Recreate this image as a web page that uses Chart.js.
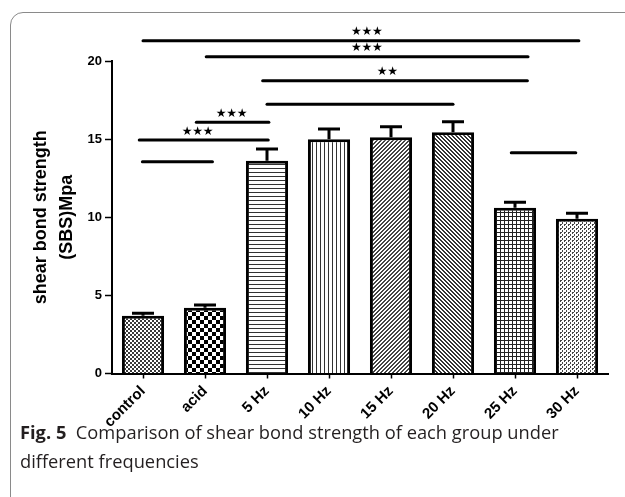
<!DOCTYPE html>
<html>
<head>
<meta charset="utf-8">
<script src="https://cdn.jsdelivr.net/npm/chart.js@4/dist/chart.umd.min.js"></script>
<style>
  body { margin: 0; background: #fff; }
  #wrap { position: relative; width: 625px; height: 497px; overflow: hidden; }
  #frame { position: absolute; left: 10px; top: 12px; width: 700px; height: 600px;
           border: 1.5px solid #8a8a8a; border-radius: 13px; }
  #cv { position: absolute; left: 0; top: 0; }
  #caption { position: absolute; left: 20px; top: 417px; width: 600px; white-space: nowrap;
             font-family: "Open Sans", sans-serif; font-size: 18.3px; line-height: 29px; color: #231f20; }
  #caption b { font-weight: 700; }
</style>
</head>
<body>
<div id="wrap">
  <div id="frame"></div>
  <canvas id="cv" width="625" height="440"></canvas>
  <div id="caption"><b>Fig. 5</b>&nbsp; Comparison of shear bond strength of each group under<br>different frequencies</div>
</div>
<script>
var categories = ['control', 'acid', '5 Hz', '10 Hz', '15 Hz', '20 Hz', '25 Hz', '30 Hz'];
var sbsMean = [3.70, 4.21, 13.62, 15.00, 15.12, 15.44, 10.61, 9.91];
var sbsErr = [0.15, 0.17, 0.75, 0.65, 0.68, 0.68, 0.35, 0.34];
var yTicks = [0, 5, 10, 15, 20];

// significance brackets (x in category index units)
var sigFrom = [0, 1.02, 1.93, 2.0, 0.86, -0.06, -0.01, 5.94];
var sigTo = [7.03, 6.21, 6.2, 5.0, 2.03, 2.02, 1.12, 6.98];
var sigY = [21.3, 20.28, 18.74, 17.23, 16.08, 14.94, 13.56, 14.13];
var sigMark = ['***', '***', '**', '', '***', '***', '', ''];
var markX = [3.61, 3.61, 3.94, null, 1.43, 0.88, null, null];

var patternKinds = ['fineCheck', 'check', 'hlines', 'vlines', 'diagUp', 'diagDown', 'grid', 'dots'];

function makePattern(kind) {
    var c = document.createElement('canvas');
    var n = 8;
    c.width = n; c.height = n;
    var g = c.getContext('2d');
    g.fillStyle = '#fff';
    g.fillRect(0, 0, n, n);
    for (var y = 0; y < n; y++) {
        for (var x = 0; x < n; x++) {
            var on = false, col = '#000';
            if (kind == 'fineCheck') { on = ((x >> 1) + (y >> 1)) % 2 == 0; col = '#3a3a3a'; }
            if (kind == 'check') { on = ((x >> 2) + (y >> 2)) % 2 == 0; col = '#000'; }
            if (kind == 'hlines') { on = y % 4 == 0; col = '#333'; }
            if (kind == 'vlines') { on = x % 4 == 0; col = '#333'; }
            if (kind == 'diagUp') { on = (x + y) % 4 < 2; col = '#444'; }
            if (kind == 'diagDown') { on = ((x - y) % 4 + 4) % 4 < 2; col = '#333'; }
            if (kind == 'grid') { on = x % 4 == 0 || y % 4 == 0; col = '#222'; }
            if (kind == 'dots') { on = (x + y) % 4 < 2 && (x % 2 == 0 || y % 4 == 0); col = '#444'; }
            if (on) { g.fillStyle = col; g.fillRect(x, y, 1, 1); }
        }
    }
    return g.createPattern(c, 'repeat');
}

var datasets = [{
    type: 'bar',
    data: sbsMean,
    backgroundColor: patternKinds.map(makePattern),
    borderColor: '#000',
    borderWidth: 3,
    barPercentage: 0.68,
    categoryPercentage: 1,
    grouped: false,
    xAxisID: 'x',
    order: 2
}];
for (var i = 0; i < sigY.length; i++) {
    datasets.push({
        type: 'line',
        data: [{x: sigFrom[i], y: sigY[i]}, {x: sigTo[i], y: sigY[i]}],
        xAxisID: 'xs',
        borderColor: '#000',
        borderWidth: 3,
        borderCapStyle: 'round',
        pointRadius: 0,
        clip: false,
        order: 1
    });
}

var errorBars = {
    id: 'errorBars',
    afterDatasetsDraw: function (chart) {
        var ctx = chart.ctx, ys = chart.scales.y, xs = chart.scales.xs;
        var meta = chart.getDatasetMeta(0);
        ctx.save();
        ctx.strokeStyle = '#000';
        ctx.lineWidth = 3;
        meta.data.forEach(function (bar, i) {
            var top = ys.getPixelForValue(sbsMean[i]);
            var e = ys.getPixelForValue(sbsMean[i] + sbsErr[i]);
            ctx.beginPath();
            ctx.moveTo(bar.x, top);
            ctx.lineTo(bar.x, e);
            ctx.moveTo(bar.x - 11, e);
            ctx.lineTo(bar.x + 11, e);
            ctx.stroke();
        });
        // stars over the brackets
        ctx.fillStyle = '#000';
        ctx.font = '12px "DejaVu Sans"';
        ctx.textAlign = 'center';
        ctx.textBaseline = 'middle';
        for (var k = 0; k < sigMark.length; k++) {
            if (!sigMark[k]) continue;
            var cx = xs.getPixelForValue(markX[k]);
            var cy = ys.getPixelForValue(sigY[k]) - 8.5;
            var cnt = sigMark[k].length;
            for (var s = 0; s < cnt; s++) {
                ctx.fillText('\u2605', cx + (s - (cnt - 1) / 2) * 10.5, cy);
            }
        }
        ctx.restore();
    }
};

var ctx = document.getElementById('cv');
new Chart(ctx, {
    data: {
        labels: categories,
        datasets: datasets
    },
    plugins: [errorBars],
    options: {
        responsive: false,
        animation: false,
        layout: {
            padding: {top: 61, right: 17, left: 0, bottom: 0}
        },
        plugins: {
            legend: {display: false},
            tooltip: {enabled: false}
        },
        scales: {
            x: {
                type: 'category',
                offset: true,
                afterFit: function (s) { s.height = 66.5; },
                grid: {
                    offset: false,
                    drawOnChartArea: false,
                    tickLength: 5,
                    tickWidth: 1.5,
                    tickColor: '#000'
                },
                border: {color: '#000', width: 2},
                ticks: {
                    color: '#000',
                    minRotation: 45,
                    maxRotation: 45,
                    padding: 4,
                    font: {family: 'Arial, "Liberation Sans"', size: 15, weight: 'bold'}
                }
            },
            xs: {
                type: 'linear',
                display: false,
                min: -0.5,
                max: 7.5
            },
            y: {
                min: 0,
                max: 20,
                afterFit: function (s) { s.width = 112; },
                afterBuildTicks: function (s) { s.ticks = yTicks.map(function (v) { return {value: v}; }); },
                grid: {
                    drawOnChartArea: false,
                    tickLength: 7,
                    tickWidth: 1.5,
                    tickColor: '#000'
                },
                border: {color: '#000', width: 2},
                ticks: {
                    color: '#000',
                    padding: 3,
                    font: {family: 'Arial, "Liberation Sans"', size: 13, weight: 'bold'}
                },
                title: {
                    display: true,
                    text: ['shear bond strength', '(SBS)Mpa'],
                    color: '#000',
                    padding: {top: 28, bottom: 0},
                    font: {family: 'Arial, "Liberation Sans"', size: 18, weight: 'bold', lineHeight: '26px'}
                }
            }
        }
    }
});
</script>
</body>
</html>
